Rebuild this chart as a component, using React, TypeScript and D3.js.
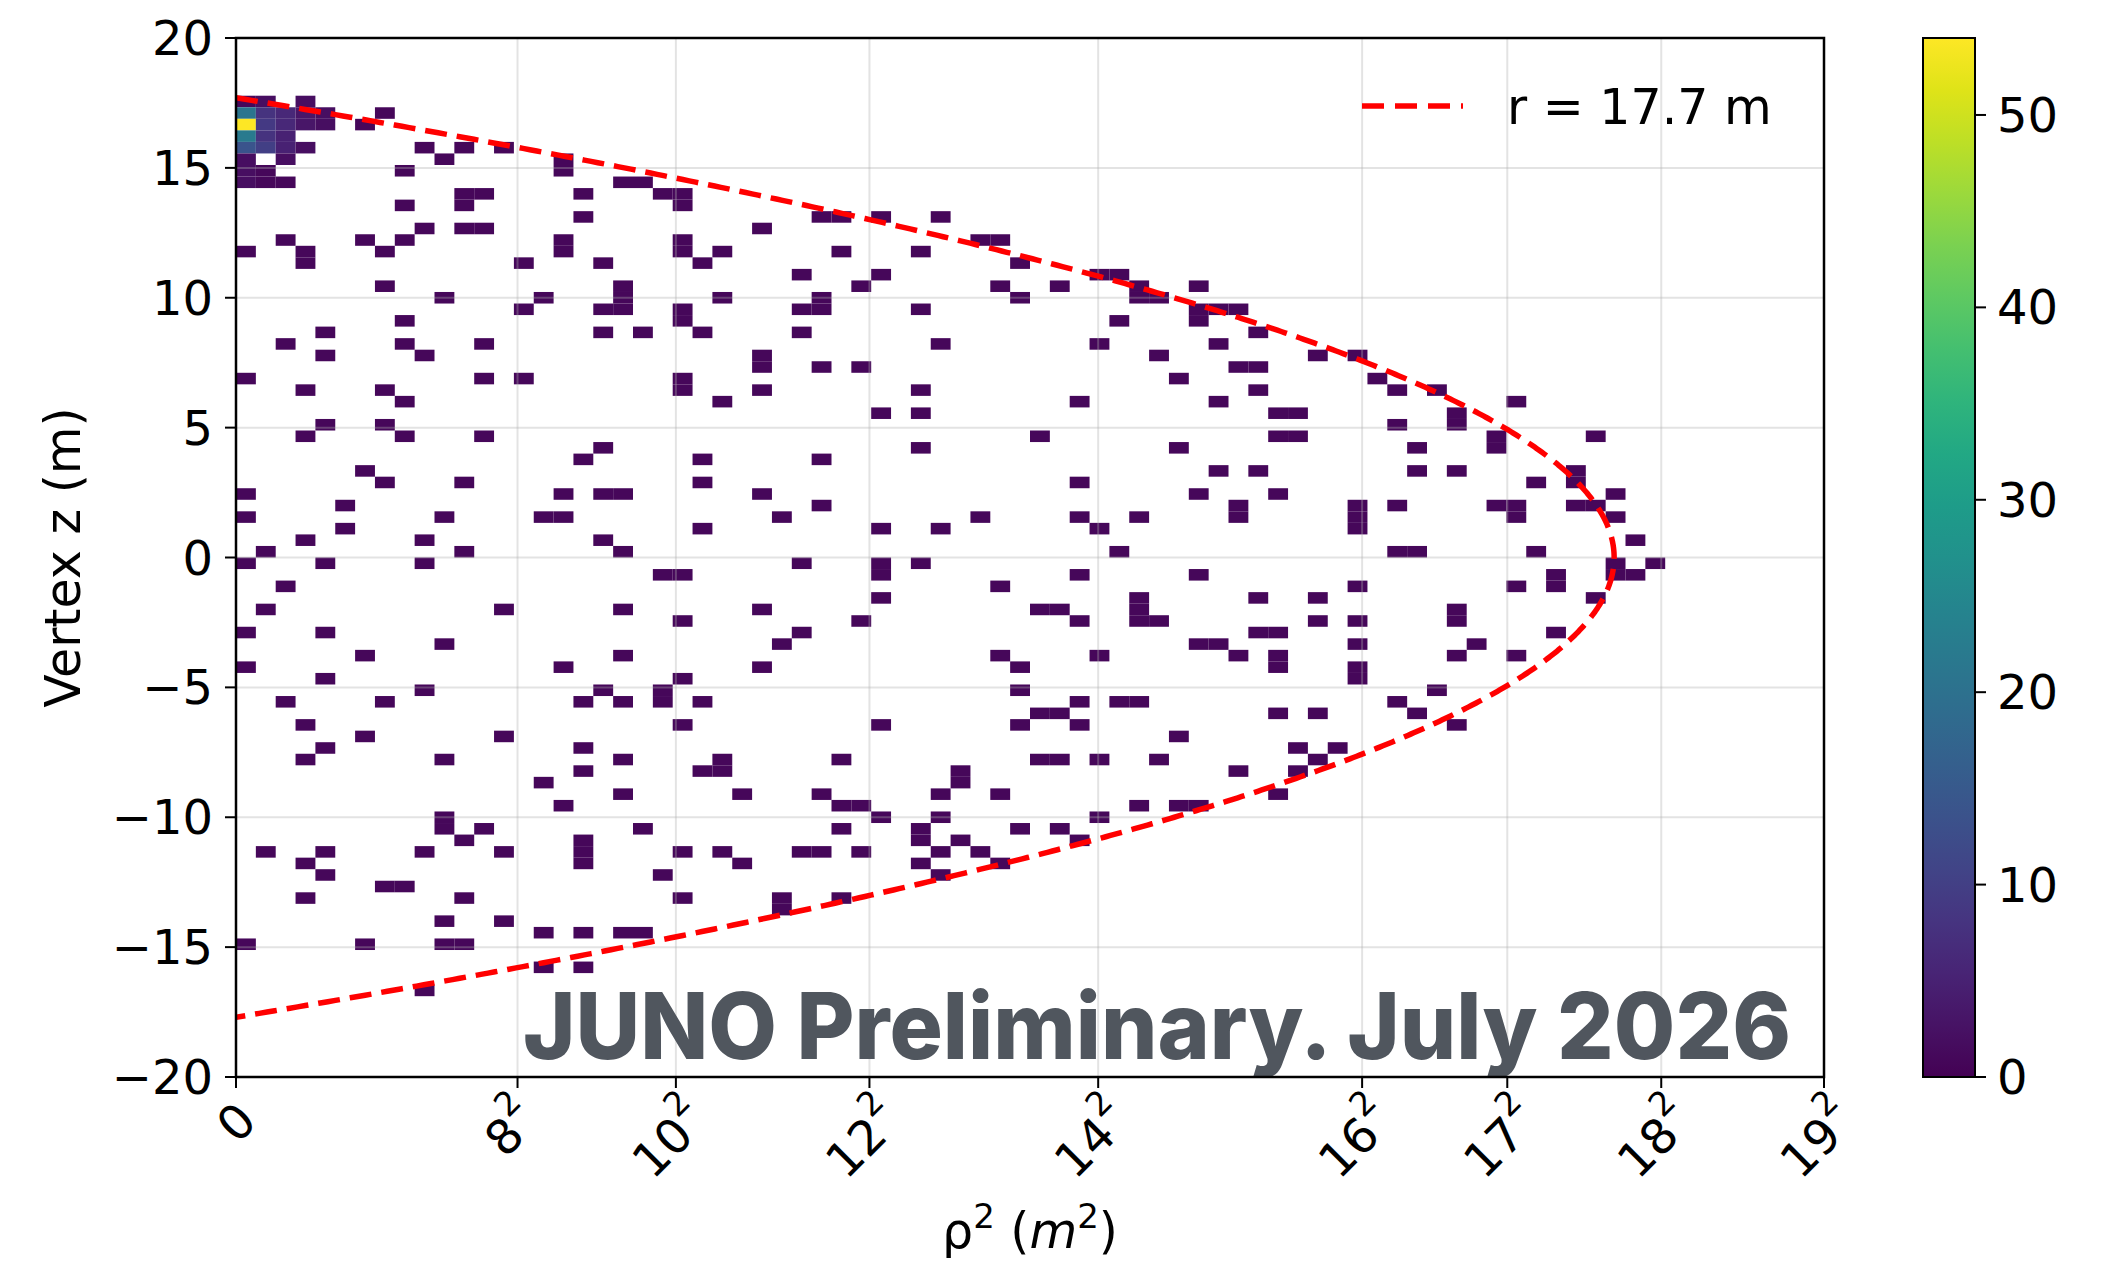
import React from "react"
import * as d3 from "d3"

// ---------- Data ----------
// 2D histogram: 80 bins in rho^2 over [0, 19^2], 90 bins in z over [-20, 20]
const rhoMax = 361
const rhoBins = 80
const zMin = -20
const zMax = 20
const zBins = 90

// occupied cells, grouped by z row (counted from the top, z = 20 downwards) -> rho^2 bin indices
const occupiedRows: [number, number[]][] = [
    [5, [0, 1, 3]],
    [6, [0, 1, 2, 3, 4, 7]],
    [7, [0, 1, 2, 3, 4, 6]],
    [8, [0, 1, 2]],
    [9, [0, 1, 2, 3, 9, 11, 13]],
    [10, [0, 2, 10, 16]],
    [11, [0, 1, 8, 16]],
    [12, [0, 1, 2, 19, 20]],
    [13, [11, 12, 17, 21, 22]],
    [14, [8, 11, 22]],
    [15, [17, 29, 30, 32, 35]],
    [16, [9, 11, 12, 26]],
    [17, [2, 6, 8, 16, 22, 37, 38]],
    [18, [0, 3, 7, 16, 22, 24, 30, 34]],
    [19, [3, 14, 18, 23, 39]],
    [20, [28, 32, 43, 44]],
    [21, [7, 19, 31, 38, 41, 45, 48]],
    [22, [10, 15, 19, 24, 29, 39, 45, 46]],
    [23, [14, 18, 19, 22, 28, 29, 34, 48, 49, 50]],
    [24, [8, 22, 44, 48]],
    [25, [4, 18, 20, 23, 28, 51]],
    [26, [2, 8, 12, 35, 43, 49]],
    [27, [4, 9, 26, 46, 54, 56]],
    [28, [26, 29, 31, 50, 51]],
    [29, [0, 12, 14, 22, 47, 57]],
    [30, [3, 7, 22, 26, 34, 51, 58, 60]],
    [31, [8, 24, 42, 49, 64]],
    [32, [32, 34, 52, 53, 61]],
    [33, [4, 7, 58, 61]],
    [34, [3, 8, 12, 40, 52, 53, 63, 68]],
    [35, [18, 34, 47, 59, 63]],
    [36, [17, 23, 29]],
    [37, [6, 49, 51, 59, 61, 67]],
    [38, [7, 11, 23, 42, 65, 67]],
    [39, [0, 16, 18, 19, 26, 48, 52, 69]],
    [40, [5, 29, 50, 56, 58, 63, 64, 67, 68]],
    [41, [0, 10, 15, 16, 27, 37, 42, 45, 50, 56, 64, 69]],
    [42, [5, 23, 32, 35, 43, 56]],
    [43, [3, 9, 18, 70]],
    [44, [1, 11, 19, 44, 58, 59, 65]],
    [45, [0, 4, 9, 28, 32, 34, 69, 71]],
    [46, [21, 22, 32, 42, 48, 66, 69, 70]],
    [47, [2, 38, 56, 64, 66]],
    [48, [32, 45, 51, 54, 68]],
    [49, [1, 13, 19, 26, 40, 41, 45, 61]],
    [50, [22, 31, 42, 45, 46, 54, 56, 61]],
    [51, [0, 4, 28, 51, 52, 66]],
    [52, [10, 27, 48, 49, 56, 62]],
    [53, [6, 19, 38, 43, 50, 52, 61, 64]],
    [54, [0, 16, 26, 39, 52, 56]],
    [55, [4, 22, 56]],
    [56, [9, 18, 21, 39, 60]],
    [57, [2, 7, 17, 19, 21, 23, 42, 44, 45, 58]],
    [58, [40, 41, 52, 54, 59]],
    [59, [3, 22, 32, 39, 42, 61]],
    [60, [6, 13, 47]],
    [61, [4, 17, 53, 55]],
    [62, [3, 10, 19, 24, 30, 40, 41, 43, 46, 54]],
    [63, [17, 23, 24, 36, 50, 53]],
    [64, [15, 36]],
    [65, [19, 25, 29, 35, 38, 52]],
    [66, [16, 30, 31, 45, 47, 48]],
    [67, [10, 32, 35, 43]],
    [68, [10, 12, 20, 30, 34, 39, 41]],
    [69, [11, 17, 34, 36, 42]],
    [70, [1, 4, 9, 13, 17, 22, 24, 28, 29, 31, 35, 37]],
    [71, [3, 17, 25, 34, 38]],
    [72, [4, 21, 35]],
    [73, [7, 8]],
    [74, [3, 11, 22, 27, 30]],
    [75, [27]],
    [76, [10, 13]],
    [77, [15, 17, 19, 20]],
    [78, [0, 6, 10, 11]],
    [80, [15, 17]],
    [82, [9]],
]

// counts above 1: [row from top, rho^2 bin, count]
const hotCells: [number, number, number][] = [
    [5, 1, 2], [5, 3, 2],
    [6, 0, 21], [6, 1, 8], [6, 2, 6], [6, 3, 3], [6, 4, 2],
    [7, 0, 54], [7, 1, 9], [7, 2, 6], [7, 3, 3], [7, 4, 2],
    [8, 0, 22], [8, 1, 8], [8, 2, 5],
    [9, 0, 14], [9, 1, 10], [9, 2, 5], [9, 3, 2],
    [10, 0, 2], [10, 2, 2], [11, 0, 2], [12, 0, 2],
]

const colorMax = 54
const colorTicks = [0, 10, 20, 30, 40, 50]
const zTicks = [-20, -15, -10, -5, 0, 5, 10, 15, 20]
const rhoTicks = [0, 64, 100, 144, 196, 256, 289, 324, 361]
const rhoTickBase = ["0", "8", "10", "12", "14", "16", "17", "18", "19"]
const detectorRadius = 17.7

// ---------- Layout ----------
const W = 2115
const H = 1267
const plot = { left: 236, right: 1824, top: 38, bottom: 1077 }
const cbar = { left: 1923, right: 1975 }
const FONT = "DejaVu Sans, sans-serif"
const FS = 48

const App: React.FC = () => {
    const x = d3.scaleLinear().domain([0, rhoMax]).range([plot.left, plot.right])
    const y = d3.scaleLinear().domain([zMin, zMax]).range([plot.bottom, plot.top])
    const color = d3.scaleSequential(d3.interpolateViridis).domain([0, colorMax])
    const cy = d3.scaleLinear().domain([0, colorMax]).range([plot.bottom, plot.top])

    const dRho = rhoMax / rhoBins
    const dZ = (zMax - zMin) / zBins

    const hotMap = new Map(hotCells.map(([r, c, n]) => [`${r}-${c}`, n]))
    const cells = occupiedRows.flatMap(([row, cols]) =>
        cols.map(col => ({
            rho0: col * dRho,
            rho1: (col + 1) * dRho,
            zTop: zMax - row * dZ,
            zBot: zMax - (row + 1) * dZ,
            n: hotMap.get(`${row}-${col}`) ?? 1,
        }))
    )

    // boundary of the r = 17.7 m sphere in (rho^2, z)
    const r2 = detectorRadius * detectorRadius
    const zs = d3.range(detectorRadius, -detectorRadius - 1e-9, -0.05).concat([-detectorRadius])
    const curve = d3.line<number>()
        .x(z => x(Math.max(0, r2 - z * z)))
        .y(z => y(z))
        .curve(d3.curveLinear)(zs) ?? ""

    const gridColor = "rgba(176,176,176,0.35)"
    const gradStops = d3.range(0, 1.0001, 0.05)

    return (
        <svg width={W} height={H} style={{ position: "absolute", left: 0, top: 0, background: "#fff" }}
            fontFamily={FONT}>
            <defs>
                <linearGradient id="viridis" x1="0" y1="1" x2="0" y2="0">
                    {gradStops.map(t => (
                        <stop key={t} offset={t} stopColor={d3.interpolateViridis(t)} />
                    ))}
                </linearGradient>
                <clipPath id="plotClip">
                    <rect x={plot.left} y={plot.top} width={plot.right - plot.left} height={plot.bottom - plot.top} />
                </clipPath>
            </defs>

            <rect x={0} y={0} width={W} height={H} fill="#fff" />

            {/* histogram cells */}
            <g>
                {cells.map((c, i) => (
                    <rect key={i}
                        x={x(c.rho0)} y={y(c.zTop)}
                        width={x(c.rho1) - x(c.rho0)} height={y(c.zBot) - y(c.zTop)}
                        fill={color(c.n)} />
                ))}
            </g>

            {/* grid */}
            <g stroke={gridColor} strokeWidth={2}>
                {rhoTicks.map(t => <line key={"gx" + t} x1={x(t)} x2={x(t)} y1={plot.top} y2={plot.bottom} />)}
                {zTicks.map(t => <line key={"gy" + t} x1={plot.left} x2={plot.right} y1={y(t)} y2={y(t)} />)}
            </g>

            {/* r = 17.7 m boundary */}
            <path d={curve} fill="none" stroke="#ff0000" strokeWidth={5.5} strokeDasharray="22 10"
                clipPath="url(#plotClip)" />

            {/* watermark */}
            <text x={523} y={1059} fontFamily="Inter, sans-serif" fontWeight={800} fontSize={92}
                fill="#50565e" textLength={1268} lengthAdjust="spacingAndGlyphs">
                JUNO Preliminary. July 2026
            </text>

            {/* spines */}
            <rect x={plot.left} y={plot.top} width={plot.right - plot.left} height={plot.bottom - plot.top}
                fill="none" stroke="#000" strokeWidth={2.5} />

            {/* y axis */}
            <g fontSize={FS} fill="#000">
                {zTicks.map(t => (
                    <g key={"yt" + t}>
                        <line x1={plot.left - 11} x2={plot.left} y1={y(t)} y2={y(t)} stroke="#000" strokeWidth={2} />
                        <text x={plot.left - 23} y={y(t)} textAnchor="end" dominantBaseline="central">
                            {t < 0 ? "\u2212" + Math.abs(t) : String(t)}
                        </text>
                    </g>
                ))}
            </g>
            <text transform={`translate(80,${(plot.top + plot.bottom) / 2}) rotate(-90)`} textAnchor="middle"
                fontSize={49} fill="#000">Vertex z (m)</text>

            {/* x axis */}
            <g fontSize={FS} fill="#000">
                {rhoTicks.map((t, i) => {
                    const base = rhoTickBase[i]
                    const hasSup = t !== 0
                    const w = base.length * 0.636 * FS + (hasSup ? 0.4 * FS : 0)
                    const h = 0.9 * FS
                    const s = (w + h) / Math.SQRT2
                    const cx = x(t) - (hasSup ? 6 : 0)
                    const cyy = plot.bottom + 19 + s / 2
                    return (
                        <g key={"xt" + t}>
                            <line x1={x(t)} x2={x(t)} y1={plot.bottom} y2={plot.bottom + 11} stroke="#000" strokeWidth={2} />
                            <text transform={`translate(${cx},${cyy}) rotate(-45)`} textAnchor="middle" dominantBaseline="central">
                                {base}
                                {hasSup && <tspan fontSize={FS * 0.7} dy={-0.45 * FS}>2</tspan>}
                            </text>
                        </g>
                    )
                })}
            </g>
            <text x={(plot.left + plot.right) / 2} y={1248} textAnchor="middle" fontSize={49} fill="#000">
                ρ<tspan fontSize={34} dy={-20}>2</tspan><tspan dy={20}> (</tspan><tspan fontStyle="italic">m</tspan>
                <tspan fontSize={34} dy={-20}>2</tspan><tspan dy={20}>)</tspan>
            </text>

            {/* legend */}
            <line x1={1362} x2={1463} y1={106} y2={106} stroke="#ff0000" strokeWidth={5.5} strokeDasharray="22 11" />
            <text x={1507} y={124} fontSize={49} fill="#000">r = 17.7 m</text>

            {/* colorbar */}
            <rect x={cbar.left} y={plot.top} width={cbar.right - cbar.left} height={plot.bottom - plot.top}
                fill="url(#viridis)" stroke="#000" strokeWidth={2} />
            <g fontSize={FS} fill="#000">
                {colorTicks.map(t => (
                    <g key={"ct" + t}>
                        <line x1={cbar.right} x2={cbar.right + 11} y1={cy(t)} y2={cy(t)} stroke="#000" strokeWidth={2} />
                        <text x={cbar.right + 22} y={cy(t)} dominantBaseline="central">{t}</text>
                    </g>
                ))}
            </g>
        </svg>
    )
}

export default App
